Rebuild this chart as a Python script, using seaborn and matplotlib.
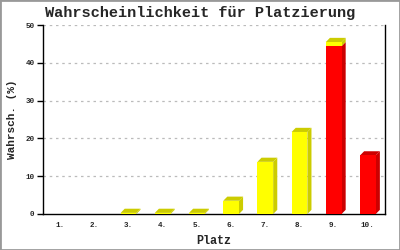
import matplotlib
matplotlib.use("Agg")
import matplotlib.pyplot as plt
from matplotlib.patches import Polygon, Rectangle
import seaborn as sns
import numpy as np
import pandas as pd

places = ["1.", "2.", "3.", "4.", "5.", "6.", "7.", "8.", "9.", "10."]
red_vals = [0, 0, 0, 0, 0, 0, 0, 0, 44.4, 15.5]
yellow_vals = [0, 0, 0.3, 0.3, 0.3, 3.5, 13.8, 21.7, 1.1, 0]
title = "Wahrscheinlichkeit für Platzierung"
xlabel = "Platz"
ylabel = "Wahrsch. (%)"
yticks = [0, 10, 20, 30, 40, 50]

YEL, YEL_D = "#FFFF00", "#CCCC00"
RED, RED_D = "#FF0000", "#CC0000"

sns.set_theme(style="white")
plt.rcParams["font.family"] = ["Liberation Mono", "DejaVu Sans Mono"]

fig = plt.figure(figsize=(4, 2.5), dpi=100)
ax = fig.add_axes([43/400, 36/250, 342/400, 189/250])

total = [r + y for r, y in zip(red_vals, yellow_vals)]
df = pd.DataFrame({"Platz": places, "total": total, "red": red_vals})
W = 0.46
sns.barplot(data=df, x="Platz", y="total", color=YEL, saturation=1, width=W,
            ax=ax, linewidth=0, zorder=3)
sns.barplot(data=df, x="Platz", y="red", color=RED, saturation=1, width=W,
            ax=ax, linewidth=0, zorder=3)

# 3D depth faces
dx, dy = 0.12, 1.1
for i, (r, y) in enumerate(zip(red_vals, yellow_vals)):
    right = i + W / 2
    left = i - W / 2
    segs = []
    if r > 0:
        segs.append((0, r, RED_D))
    if y > 0:
        segs.append((r, r + y, YEL_D))
    for b, t, c in segs:
        ax.add_patch(Polygon([(right, b), (right + dx, b + dy), (right + dx, t + dy), (right, t)],
                             closed=True, facecolor=c, edgecolor="none", zorder=2.9))
    if segs:
        t = r + y
        c = segs[-1][2]
        ax.add_patch(Polygon([(left, t), (left + dx, t + dy), (right + dx, t + dy), (right, t)],
                             closed=True, facecolor=c, edgecolor="none", zorder=2.9))

ax.set_xlim(-0.5, 9.5)
ax.set_ylim(0, 50)
ax.set_yticks(yticks)
ax.set_yticklabels([str(v) for v in yticks])
for v in yticks[1:]:
    ax.axhline(v, color="#BBBBBB", lw=0.9, ls=(0, (2, 3)), zorder=1)

for s in ["left", "bottom", "right"]:
    ax.spines[s].set_visible(True)
    ax.spines[s].set_color("black")
    ax.spines[s].set_linewidth(1.0)
ax.spines["top"].set_visible(False)
ax.tick_params(axis="y", direction="out", length=4, width=1, color="black",
               labelsize=5.5, pad=2, left=True)
ax.tick_params(axis="x", length=0, labelsize=5.5, pad=6)
for lab in ax.get_xticklabels() + ax.get_yticklabels():
    lab.set_fontweight("bold")

ax.set_xlabel(xlabel, fontsize=8.5, fontweight="bold", labelpad=4)
ax.set_ylabel(ylabel, fontsize=8, fontweight="bold", labelpad=6)
fig.text(0.5, 1 - 13/250, title, ha="center", va="center", fontsize=11, fontweight="bold")

fig.patches.append(Rectangle((0, 0), 1, 1, transform=fig.transFigure, fill=False,
                             edgecolor="#999999", linewidth=2))
fig.savefig("out.png", dpi=100, facecolor="white")
